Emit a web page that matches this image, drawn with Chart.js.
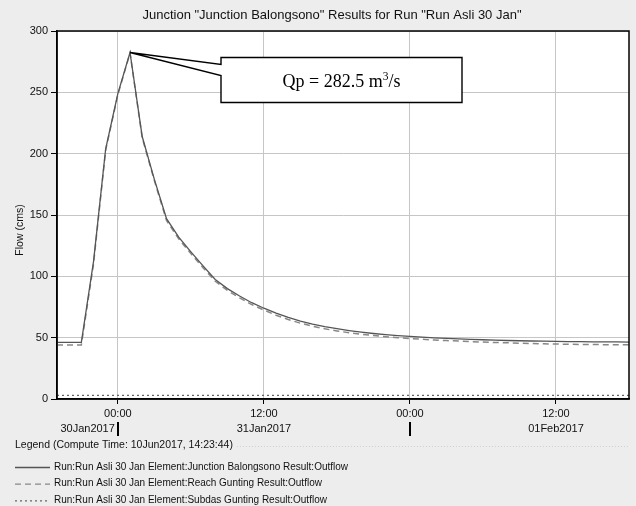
<!DOCTYPE html>
<html>
<head>
<meta charset="utf-8">
<title>Junction Balongsono</title>
<script src="https://cdn.jsdelivr.net/npm/chart.js@4.4.1/dist/chart.umd.min.js"></script>
<style>
  html, body { margin: 0; padding: 0; background: #ededed; }
  #wrap { width: 636px; height: 506px; position: relative; }
</style>
</head>
<body>
<div id="wrap"><canvas id="hidrograf"></canvas></div>
<script>
// Jam relatif terhadap 31Jan2017 00:00 (interval 1 jam)
const jam = [-5, -4, -3, -2, -1, 0, 1, 2, 3, 4, 5, 6, 7, 8, 9, 10, 11, 12, 13, 14, 15, 16, 17, 18,
             19, 20, 21, 22, 23, 24, 25, 26, 27, 28, 29, 30, 31, 32, 33, 34, 35, 36, 37, 38, 39, 40, 41, 42];

// Junction Balongsono - outflow (cms)
const debitJunction = [46.2, 46.2, 46.2, 112, 204, 249, 282.5, 214, 179, 147, 132, 120, 108.5, 97.5,
                       90, 84, 78.5, 74, 70, 66.5, 63.5, 61, 59, 57.3, 55.8, 54.5, 53.4, 52.5, 51.7,
                       51, 50.4, 49.9, 49.4, 49, 48.6, 48.3, 48, 47.7, 47.5, 47.3, 47.1, 46.9, 46.8,
                       46.7, 46.6, 46.5, 46.5, 46.4];
// Reach Gunting - outflow (cms)
const debitReach = [44, 44, 44, 110, 203, 248, 282, 213, 178, 145.5, 130.5, 118.5, 107, 96, 88.5,
                    82.5, 77, 72.5, 68.3, 64.8, 61.8, 59.3, 57.2, 55.5, 54, 52.8, 51.7, 50.8, 50,
                    49.3, 48.7, 48.1, 47.6, 47.2, 46.8, 46.4, 46.1, 45.8, 45.5, 45.2, 45, 44.8, 44.6,
                    44.5, 44.4, 44.3, 44.2, 44.2];
// Subdas Gunting - outflow (cms)
const debitSubdas = [3, 3, 3, 3, 3, 3, 3, 3, 3, 3, 3, 3, 3, 3, 3, 3, 3, 3, 3, 3, 3, 3, 3, 3,
                     3, 3, 3, 3, 3, 3, 3, 3, 3, 3, 3, 3, 3, 3, 3, 3, 3, 3, 3, 3, 3, 3, 3, 3];

// Label sumbu
const tickJam = [0, 12, 24, 36];
const labelJam = ['00:00', '12:00', '00:00', '12:00'];
const tanggalLabel = ['30Jan2017', '31Jan2017', '01Feb2017'];
const tanggalJam = [0, 12, 36];
const batasHari = [0, 24];
const tickDebit = [0, 50, 100, 150, 200, 250, 300];

const judul = 'Junction "Junction Balongsono" Results for Run "Run Asli 30 Jan"';
const namaSeri = [
    'Run:Run Asli 30 Jan Element:Junction Balongsono Result:Outflow',
    'Run:Run Asli 30 Jan Element:Reach Gunting Result:Outflow',
    'Run:Run Asli 30 Jan Element:Subdas Gunting Result:Outflow'
];

const FONT = '"Liberation Sans", Arial, sans-serif';
const SERIF = '"Liberation Serif", "Times New Roman", serif';

function titik(nilai) {
    return jam.map((j, i) => ({ x: j, y: nilai[i] }));
}

// Latar, judul, bingkai, label tanggal, legenda dan callout Qp
const dekorasi = {
    id: 'dekorasi',
    beforeDraw(chart) {
        const { ctx, chartArea: a } = chart;
        ctx.save();
        ctx.fillStyle = '#ededed';
        ctx.fillRect(0, 0, chart.width, chart.height);
        ctx.fillStyle = '#ffffff';
        ctx.fillRect(a.left, a.top, a.right - a.left, a.bottom - a.top);
        ctx.restore();
    },
    afterDraw(chart) {
        const { ctx, chartArea: a, scales } = chart;
        const sx = scales.x, sy = scales.y;
        ctx.save();

        // judul grafik
        ctx.fillStyle = '#111';
        ctx.font = '13px ' + FONT;
        ctx.textAlign = 'center';
        ctx.textBaseline = 'middle';
        ctx.fillText(judul, 332, 15);

        // bingkai plot
        ctx.strokeStyle = '#000';
        ctx.lineWidth = 1.5;
        ctx.strokeRect(a.left, a.top, a.right - a.left, a.bottom - a.top);

        // judul sumbu Y
        ctx.font = '10.5px ' + FONT;
        ctx.save();
        ctx.translate(20, 230);
        ctx.rotate(-Math.PI / 2);
        ctx.fillText('Flow (cms)', 0, 0);
        ctx.restore();

        // baris tanggal
        ctx.font = '11px ' + FONT;
        const yTgl = 429;
        tanggalLabel.forEach((t, i) => {
            const px = sx.getPixelForValue(tanggalJam[i]);
            if (batasHari.includes(tanggalJam[i])) {
                ctx.textAlign = 'right';
                ctx.fillText(t, px - 3, yTgl);
            } else {
                ctx.textAlign = 'center';
                ctx.fillText(t, px, yTgl);
            }
        });
        ctx.strokeStyle = '#000';
        ctx.lineWidth = 2;
        batasHari.forEach(h => {
            const px = Math.round(sx.getPixelForValue(h));
            ctx.beginPath();
            ctx.moveTo(px, 422);
            ctx.lineTo(px, 436);
            ctx.stroke();
        });

        // legenda
        ctx.textAlign = 'left';
        ctx.font = '10.5px ' + FONT;
        const judulLeg = 'Legend (Compute Time: 10Jun2017, 14:23:44)';
        ctx.fillText(judulLeg, 15, 445);
        const wJudul = ctx.measureText(judulLeg).width;
        ctx.strokeStyle = '#cfcfcf';
        ctx.lineWidth = 1;
        ctx.setLineDash([1, 2]);
        ctx.beginPath();
        ctx.moveTo(15 + wJudul + 4, 446.5);
        ctx.lineTo(a.right, 446.5);
        ctx.stroke();

        ctx.font = '10px ' + FONT;
        chart.data.datasets.forEach((ds, i) => {
            const y = 467 + i * 16.7;
            ctx.strokeStyle = ds.borderColor;
            ctx.lineWidth = 1.3;
            ctx.setLineDash(ds.borderDash || []);
            ctx.beginPath();
            ctx.moveTo(15, y + 0.5);
            ctx.lineTo(50, y + 0.5);
            ctx.stroke();
            ctx.fillStyle = '#111';
            ctx.fillText(ds.label, 54, y);
        });
        ctx.setLineDash([]);

        // callout debit puncak
        const iPuncak = debitJunction.indexOf(Math.max(...debitJunction));
        const px = sx.getPixelForValue(jam[iPuncak]);
        const py = sy.getPixelForValue(debitJunction[iPuncak]);
        const bx1 = 221, bx2 = 462, by1 = 57.5, by2 = 102.5;
        ctx.beginPath();
        ctx.moveTo(bx1, by1);
        ctx.lineTo(bx2, by1);
        ctx.lineTo(bx2, by2);
        ctx.lineTo(bx1, by2);
        ctx.lineTo(bx1, 75.5);
        ctx.lineTo(px, py);
        ctx.lineTo(bx1, 64.5);
        ctx.closePath();
        ctx.fillStyle = '#fff';
        ctx.fill();
        ctx.strokeStyle = '#000';
        ctx.lineWidth = 1.4;
        ctx.stroke();

        ctx.fillStyle = '#000';
        ctx.textAlign = 'left';
        ctx.textBaseline = 'alphabetic';
        ctx.font = '18px ' + SERIF;
        const teks1 = 'Qp = ' + debitJunction[iPuncak].toFixed(1) + ' m';
        const w1 = ctx.measureText(teks1).width;
        const w3 = ctx.measureText('/s').width;
        ctx.font = '11.5px ' + SERIF;
        const w2 = ctx.measureText('3').width;
        const tx = (bx1 + bx2) / 2 - (w1 + w2 + w3) / 2;
        const ty = 87;
        ctx.font = '18px ' + SERIF;
        ctx.fillText(teks1, tx, ty);
        ctx.fillText('/s', tx + w1 + w2, ty);
        ctx.font = '11.5px ' + SERIF;
        ctx.fillText('3', tx + w1, ty - 7.5);

        ctx.restore();
    }
};

const ctx = document.getElementById('hidrograf').getContext('2d');
const grafik = new Chart(ctx, {
    type: 'line',
    data: {
        datasets: [
            {
                label: namaSeri[0],
                data: titik(debitJunction),
                borderColor: '#555555',
                borderWidth: 1.3,
                pointRadius: 0,
                tension: 0,
                order: 1
            },
            {
                label: namaSeri[1],
                data: titik(debitReach),
                borderColor: '#888888',
                borderWidth: 1.5,
                borderDash: [6, 4],
                pointRadius: 0,
                tension: 0,
                order: 2
            },
            {
                label: namaSeri[2],
                data: titik(debitSubdas),
                borderColor: '#666666',
                borderWidth: 1.3,
                borderDash: [2, 3],
                pointRadius: 0,
                tension: 0,
                order: 3
            }
        ]
    },
    options: {
        responsive: true,
        maintainAspectRatio: false,
        animation: false,
        layout: { padding: { left: 0, right: 7, top: 31, bottom: 0 } },
        scales: {
            x: {
                type: 'linear',
                min: -5,
                max: 42,
                afterBuildTicks: s => { s.ticks = tickJam.map(v => ({ value: v })); },
                afterFit: s => { s.height = 107; },
                ticks: {
                    autoSkip: false,
                    maxRotation: 0,
                    color: '#111',
                    padding: 3,
                    font: { family: FONT, size: 11 },
                    callback: v => labelJam[tickJam.indexOf(v)]
                },
                grid: {
                    color: '#c6c6c6',
                    lineWidth: 1,
                    tickLength: 5,
                    tickColor: '#000'
                },
                border: { display: true, color: '#000', width: 1.5 }
            },
            y: {
                min: 0,
                max: 300,
                afterBuildTicks: s => { s.ticks = tickDebit.map(v => ({ value: v })); },
                afterFit: s => { s.width = 57; },
                ticks: {
                    color: '#111',
                    padding: 3,
                    font: { family: FONT, size: 11 }
                },
                grid: {
                    color: '#c6c6c6',
                    lineWidth: 1,
                    tickLength: 6,
                    tickColor: '#000'
                },
                border: { display: true, color: '#000', width: 1.5 }
            }
        },
        plugins: {
            legend: { display: false },
            tooltip: { enabled: false },
            title: { display: false }
        }
    },
    plugins: [dekorasi]
});
</script>
</body>
</html>
